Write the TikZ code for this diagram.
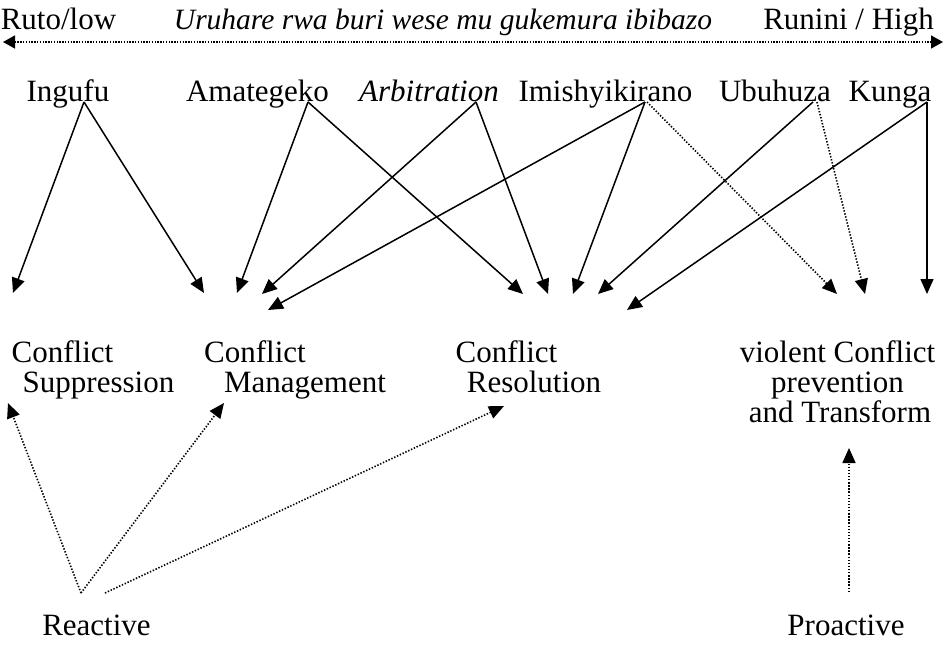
\documentclass[tikz,border=0pt]{standalone}
\usepackage{fontspec}
\setmainfont{Liberation Serif}
\usetikzlibrary{arrows.meta}
\begin{document}
\begin{tikzpicture}[x=1pt,y=-1pt,
  lbl/.style={anchor=base,inner sep=0pt,font=\fontsize{31}{34}\selectfont},
  arr/.style={line width=1.5pt,-{Triangle[length=15pt,width=13pt]}},
  dotarr/.style={line width=1.6pt,dash pattern=on 1.4pt off 1.7pt,-{Triangle[length=15pt,width=13pt]}},
  toparr/.style={line width=1.5pt,dash pattern=on 1.3pt off 1.5pt,{Triangle[length=12pt,width=13pt]}-{Triangle[length=12pt,width=13pt]}}]
\useasboundingbox (0,0) rectangle (945,658);
% top scale
\node[lbl] (low) at (58.5,30) {Ruto/low};
\node[lbl,font=\fontsize{29.5}{34}\selectfont\itshape] (mid) at (443,30) {Uruhare rwa buri wese mu gukemura ibibazo};
\node[lbl] (high) at (848.5,30) {Runini / High};
\coordinate (topL) at (3,42);
\coordinate (topR) at (943,42);
\draw[toparr] (topL) -- (topR);
% sources
\node[lbl] (ingufu) at (68,102) {Ingufu};
\node[lbl] (amat) at (257.5,102) {Amategeko};
\node[lbl] (arb) at (429,102) {\itshape Arbitration};
\node[lbl] (imi) at (605.5,102) {Imishyikirano};
\node[lbl] (ubu) at (775,102) {Ubuhuza};
\node[lbl] (kunga) at (890,102) {Kunga};
\coordinate (sIng) at ([xshift=16pt]ingufu.base);
\coordinate (sAm) at ([xshift=50.5pt]amat.base);
\coordinate (sArb) at ([xshift=47pt]arb.base);
\coordinate (sImi) at ([xshift=39.5pt]imi.base);
\coordinate (sImiD) at ([xshift=41.5pt]imi.base);
\coordinate (sUbu) at ([xshift=38pt]ubu.base);
\coordinate (sUbuD) at ([xshift=42pt]ubu.base);
\coordinate (sKun) at ([xshift=37pt]kunga.base);
% targets
\coordinate (t1) at (13,293);
\coordinate (t2) at (204,293);
\coordinate (t3) at (237,293);
\coordinate (t4) at (262,294);
\coordinate (t5) at (268,310);
\coordinate (t6) at (523,294);
\coordinate (t7) at (548,294);
\coordinate (t8) at (573,294);
\coordinate (t9) at (598,294);
\coordinate (t10) at (627,310);
\coordinate (t11) at (837,294);
\coordinate (t12) at (865,294);
\coordinate (t13) at (927,294);
\draw[arr] (sIng) -- (t1);
\draw[arr] (sIng) -- (t2);
\draw[arr] (sAm) -- (t3);
\draw[arr] (sAm) -- (t6);
\draw[arr] (sArb) -- (t4);
\draw[arr] (sArb) -- (t7);
\draw[arr] (sImi) -- (t5);
\draw[arr] (sImi) -- (t8);
\draw[dotarr] (sImiD) -- (t11);
\draw[arr] (sUbu) -- (t9);
\draw[dotarr] (sUbuD) -- (t12);
\draw[arr] (sKun) -- (t10);
\draw[arr] (sKun) -- (t13);
% outcome labels
\node[lbl] (c1a) at (62.5,362) {Conflict};
\node[lbl] (c1b) at (98.5,392) {Suppression};
\node[lbl] (c2a) at (255,362) {Conflict};
\node[lbl] (c2b) at (305,392) {Management};
\node[lbl] (c3a) at (506.5,362) {Conflict};
\node[lbl] (c3b) at (534,392) {Resolution};
\node[lbl] (c4a) at (837.5,362) {violent Conflict};
\node[lbl] (c4b) at (837.5,392) {prevention};
\node[lbl] (c4c) at (840,422) {and Transform};
% bottom
\node[lbl] (react) at (96.5,635) {Reactive};
\node[lbl] (proact) at (846,635) {Proactive};
\coordinate (r1) at ([xshift=-15.5pt,yshift=42pt]react.base);
\coordinate (r2) at ([xshift=8.5pt,yshift=42pt]react.base);
\coordinate (p1) at ([xshift=3pt,yshift=43pt]proact.base);
\coordinate (b1) at (8,403);
\coordinate (b2) at (224,403);
\coordinate (b3) at (504,406);
\coordinate (b4) at (849,448);
\draw[dotarr] (r1) -- (b1);
\draw[dotarr] (r1) -- (b2);
\draw[dotarr] (r2) -- (b3);
\draw[dotarr] (p1) -- (b4);
\end{tikzpicture}
\end{document}
